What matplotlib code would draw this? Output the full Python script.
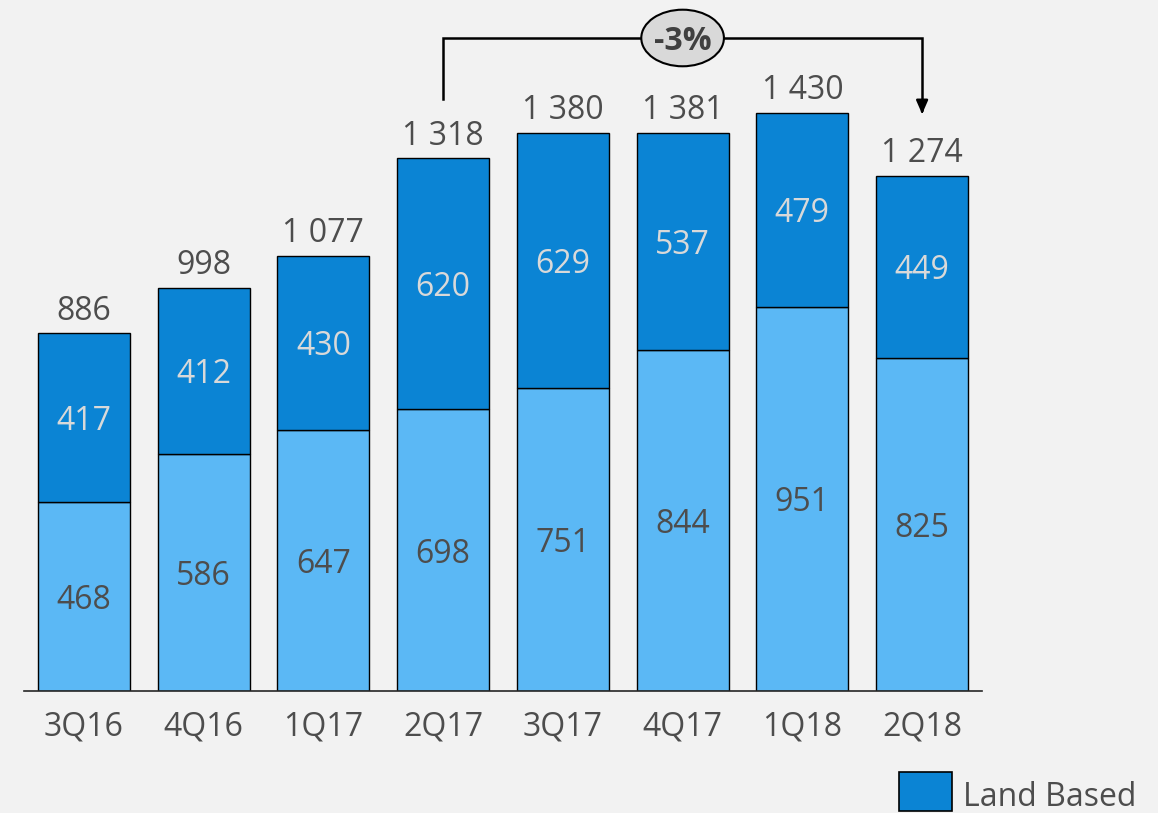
import numpy as np
import matplotlib.pyplot as plt
from matplotlib.patches import Ellipse, Rectangle

plt.rcParams['font.family'] = ['Open Sans', 'DejaVu Sans']

quarters = ['3Q16', '4Q16', '1Q17', '2Q17', '3Q17', '4Q17', '1Q18', '2Q18']
lower = [468, 586, 647, 698, 751, 844, 951, 825]
land_based = [417, 412, 430, 620, 629, 537, 479, 449]
totals = [886, 998, 1077, 1318, 1380, 1381, 1430, 1274]
change_label = '-3%'

bg = '#F2F2F2'
light_blue = '#5BB8F5'
dark_blue = '#0B84D4'
grey_txt = '#4D4D4D'

fig = plt.figure(figsize=(11.58, 8.13), dpi=100, facecolor=bg)
ax = fig.add_axes([0.0207, 0.150, 0.8273, 0.850])
ax.set_facecolor(bg)

x = np.arange(len(quarters))
w = 0.767
ax.bar(x, lower, w, color=light_blue, edgecolor='black', linewidth=1)
ax.bar(x, land_based, w, bottom=lower, color=dark_blue, edgecolor='black', linewidth=1)

def fmt(v):
    return f'{v:,}'.replace(',', ' ')

fs = 23
for i in range(len(x)):
    ax.text(x[i], lower[i] / 2, fmt(lower[i]), ha='center', va='center_baseline',
            fontsize=fs, color=grey_txt)
    ax.text(x[i], lower[i] + land_based[i] / 2, fmt(land_based[i]), ha='center',
            va='center_baseline', fontsize=fs, color='#D9D9D9')
    ax.annotate(fmt(totals[i]), (x[i], lower[i] + land_based[i]),
                xytext=(0, 19), textcoords='offset points', ha='center',
                va='center_baseline', fontsize=fs, color=grey_txt)

ax.set_xlim(-0.5, 7.5)
ax.set_ylim(0, 1710)
for s in ['top', 'right', 'left']:
    ax.spines[s].set_visible(False)
ax.spines['bottom'].set_color('#262626')
ax.spines['bottom'].set_linewidth(1.2)
ax.set_yticks([])
ax.set_xticks(x)
ax.set_xticklabels(quarters, fontsize=fs, color=grey_txt)
ax.tick_params(axis='x', length=0, pad=14)

# bracket from 2Q17 to 2Q18
y_top = 1616
ax.plot([3, 3, 7, 7], [1465, y_top, y_top, 1440], color='black', lw=1.8,
        clip_on=False, solid_joinstyle='miter')
ax.annotate('', xy=(7, 1421), xytext=(7, 1445),
            arrowprops=dict(arrowstyle='-|>,head_width=0.35,head_length=0.8',
                            color='black', lw=1.8), annotation_clip=False)
ell = Ellipse((5, y_top), 0.69, 140, facecolor='#D9D9D9', edgecolor='black',
              lw=1.5, zorder=5, clip_on=False)
ax.add_patch(ell)
ax.text(5, y_top, change_label, ha='center', va='center_baseline', fontsize=23,
        fontweight='bold', color='#404040', zorder=6)

# legend
fig.patches.append(Rectangle((899 / 1158, 1 - 811 / 813), 53 / 1158, 39 / 813,
                             transform=fig.transFigure, facecolor=dark_blue,
                             edgecolor='black', lw=1.2))
fig.text(963 / 1158, 1 - 793 / 813, 'Land Based', fontsize=fs, color=grey_txt,
         va='center_baseline', ha='left')

fig.savefig('out.png', dpi=100, facecolor=bg)
